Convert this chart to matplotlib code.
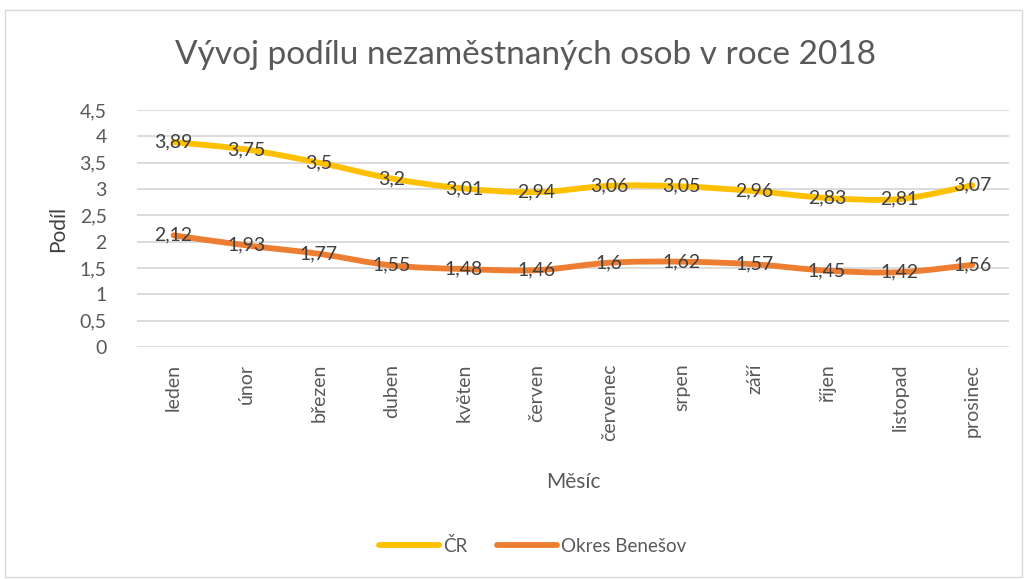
import matplotlib
matplotlib.use('Agg')
import matplotlib.pyplot as plt
from matplotlib.path import Path
from matplotlib.patches import PathPatch, Rectangle
from matplotlib.lines import Line2D
from matplotlib.ticker import FuncFormatter

# Data
# ----
months = ['leden', 'únor', 'březen', 'duben', 'květen', 'červen',
          'červenec', 'srpen', 'září', 'říjen', 'listopad', 'prosinec']
cr = [3.89, 3.75, 3.5, 3.2, 3.01, 2.94, 3.06, 3.05, 2.96, 2.83, 2.81, 3.07]
benesov = [2.12, 1.93, 1.77, 1.55, 1.48, 1.46, 1.6, 1.62, 1.57, 1.45, 1.42, 1.56]
series_names = ['ČR', 'Okres Benešov']

# Style
# -----
plt.rcParams['font.family'] = ['Lato', 'DejaVu Sans']
col_cr = '#FFC000'
col_ben = '#ED7D31'
txt_col = '#595959'
lab_col = '#404040'
grid_col = '#D9D9D9'


def smooth_path(xs, ys):
    # Catmull-Rom style bezier like Excel smoothed lines
    verts = [(xs[0], ys[0])]
    codes = [Path.MOVETO]
    n = len(xs)
    for i in range(n - 1):
        x0, y0 = (xs[i - 1], ys[i - 1]) if i > 0 else (xs[i], ys[i])
        x1, y1 = xs[i], ys[i]
        x2, y2 = xs[i + 1], ys[i + 1]
        x3, y3 = (xs[i + 2], ys[i + 2]) if i + 2 < n else (x2, y2)
        c1 = (x1 + (x2 - x0) / 6.0, y1 + (y2 - y0) / 6.0)
        c2 = (x2 - (x3 - x1) / 6.0, y2 - (y3 - y1) / 6.0)
        verts += [c1, c2, (x2, y2)]
        codes += [Path.CURVE4] * 3
    return Path(verts, codes)


fig = plt.figure(figsize=(10.24, 5.79), dpi=100)
fig.patch.set_facecolor('white')
fig.patches.append(Rectangle((0.005, 0.003), 0.993, 0.979, transform=fig.transFigure,
                             fill=False, edgecolor='#D9D9D9', linewidth=1))

ax = fig.add_axes([0.134, 0.4007, 0.851, 0.4093])
x = list(range(len(months)))

for vals, col in [(cr, col_cr), (benesov, col_ben)]:
    ax.add_patch(PathPatch(smooth_path(x, vals), facecolor='none', edgecolor=col,
                           linewidth=4.2, capstyle='round', joinstyle='round', zorder=3))
    for xi, v in zip(x, vals):
        ax.text(xi, v, ('%g' % v).replace('.', ','), ha='center', va='center',
                fontsize=14, color=lab_col, zorder=4)

ax.set_xlim(-0.5, len(months) - 0.5)
ax.set_ylim(0, 4.5)
ax.set_yticks([i * 0.5 for i in range(10)])
ax.yaxis.set_major_formatter(FuncFormatter(lambda v, p: ('%g' % v).replace('.', ',')))
ax.set_xticks(x)
ax.set_xticklabels(months, rotation=90)
ax.grid(axis='y', color=grid_col, linewidth=1.3)
ax.set_axisbelow(True)
for s in ax.spines.values():
    s.set_visible(False)
ax.tick_params(axis='both', length=0, colors=txt_col, labelsize=14)
ax.tick_params(axis='y', pad=22)
ax.tick_params(axis='x', pad=12)

ax.set_ylabel('Podíl', fontsize=15, color=lab_col, labelpad=8)
ax.set_xlabel('Měsíc', fontsize=15, color=txt_col, labelpad=22)
fig.text(0.513, 0.905, 'Vývoj podílu nezaměstnaných osob v roce 2018', fontsize=24,
         color=txt_col, ha='center', va='center')

handles = [Line2D([], [], color=col_cr, linewidth=4.2, solid_capstyle='round'),
           Line2D([], [], color=col_ben, linewidth=4.2, solid_capstyle='round')]
fig.legend(handles, series_names, loc='center', bbox_to_anchor=(0.52, 0.057), ncol=2,
           frameon=False, fontsize=13.5, labelcolor=txt_col, handlelength=3.2,
           handletextpad=0.2, columnspacing=1.6)

plt.savefig('out.png', dpi=100, facecolor='white')
